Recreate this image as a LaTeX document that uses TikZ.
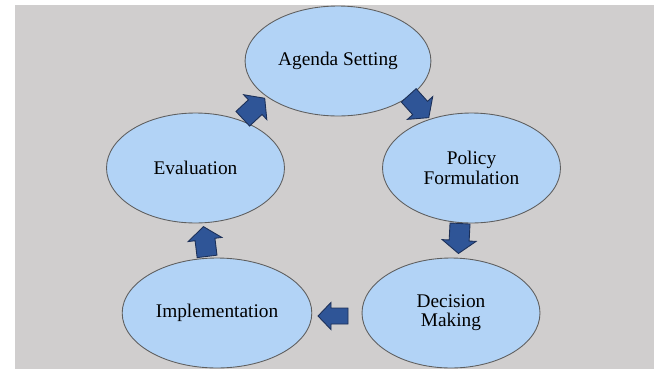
\documentclass[tikz,border=0pt]{standalone}
\usepackage{fontspec}
\setmainfont{Liberation Serif}
\usetikzlibrary{shapes.geometric}
\usetikzlibrary{calc}

\definecolor{bggray}{RGB}{208,206,206}
\definecolor{stagefill}{RGB}{178,211,246}
\definecolor{stageline}{RGB}{95,95,95}
\definecolor{arrowfill}{RGB}{47,85,151}
\definecolor{arrowline}{RGB}{28,48,88}

\tikzset{
  stage/.style={ellipse, draw=stageline, fill=stagefill, line width=0.5pt,
    minimum width=3.56cm, minimum height=2.2cm, align=center,
    font=\fontsize{11}{11}\selectfont},
  pics/blockarrow/.style={code={
    \filldraw [fill=arrowfill, draw=arrowline, line width=0.5pt]
      (-15,-10)--(2,-10)--(2,-17)--(15,0)--(2,17)--(2,10)--(-15,10)--cycle;
  }}
}

\begin{document}
\begin{tikzpicture}[x=0.02cm,y=-0.02cm]
            \useasboundingbox (0,0) rectangle (660,369);
            \fill [white] (0,0) rectangle (660,369);
            \fill [bggray] (15,5) rectangle (654,369);
            % the five stages
            \node [stage] (agenda) at (338,61) {Agenda Setting};
            \node [stage] (policy) at (471.5,168) {Policy\\Formulation};
            \node [stage] (decision) at (451,313) {Decision\\Making};
            \node [stage] (implementation) at (217,313) {Implementation};
            \node [stage] (evaluation) at (195.5,168) {Evaluation};
            % block arrows between them
            \pic [rotate=-48] at ($(agenda)!0.5!(policy)+(14,-8)$) {blockarrow};
            \pic [rotate=-93] at ($(policy)!0.5!(decision)+(-2,-2)$) {blockarrow};
            \pic [rotate=180,yscale=0.8] at ($(decision)!0.5!(implementation)+(-1,3)$) {blockarrow};
            \pic [rotate=97] at ($(implementation)!0.5!(evaluation)+(-1,1)$) {blockarrow};
            \pic [rotate=43] at ($(evaluation)!0.5!(agenda)+(-13,-6)$) {blockarrow};
        \end{tikzpicture}
\end{document}
